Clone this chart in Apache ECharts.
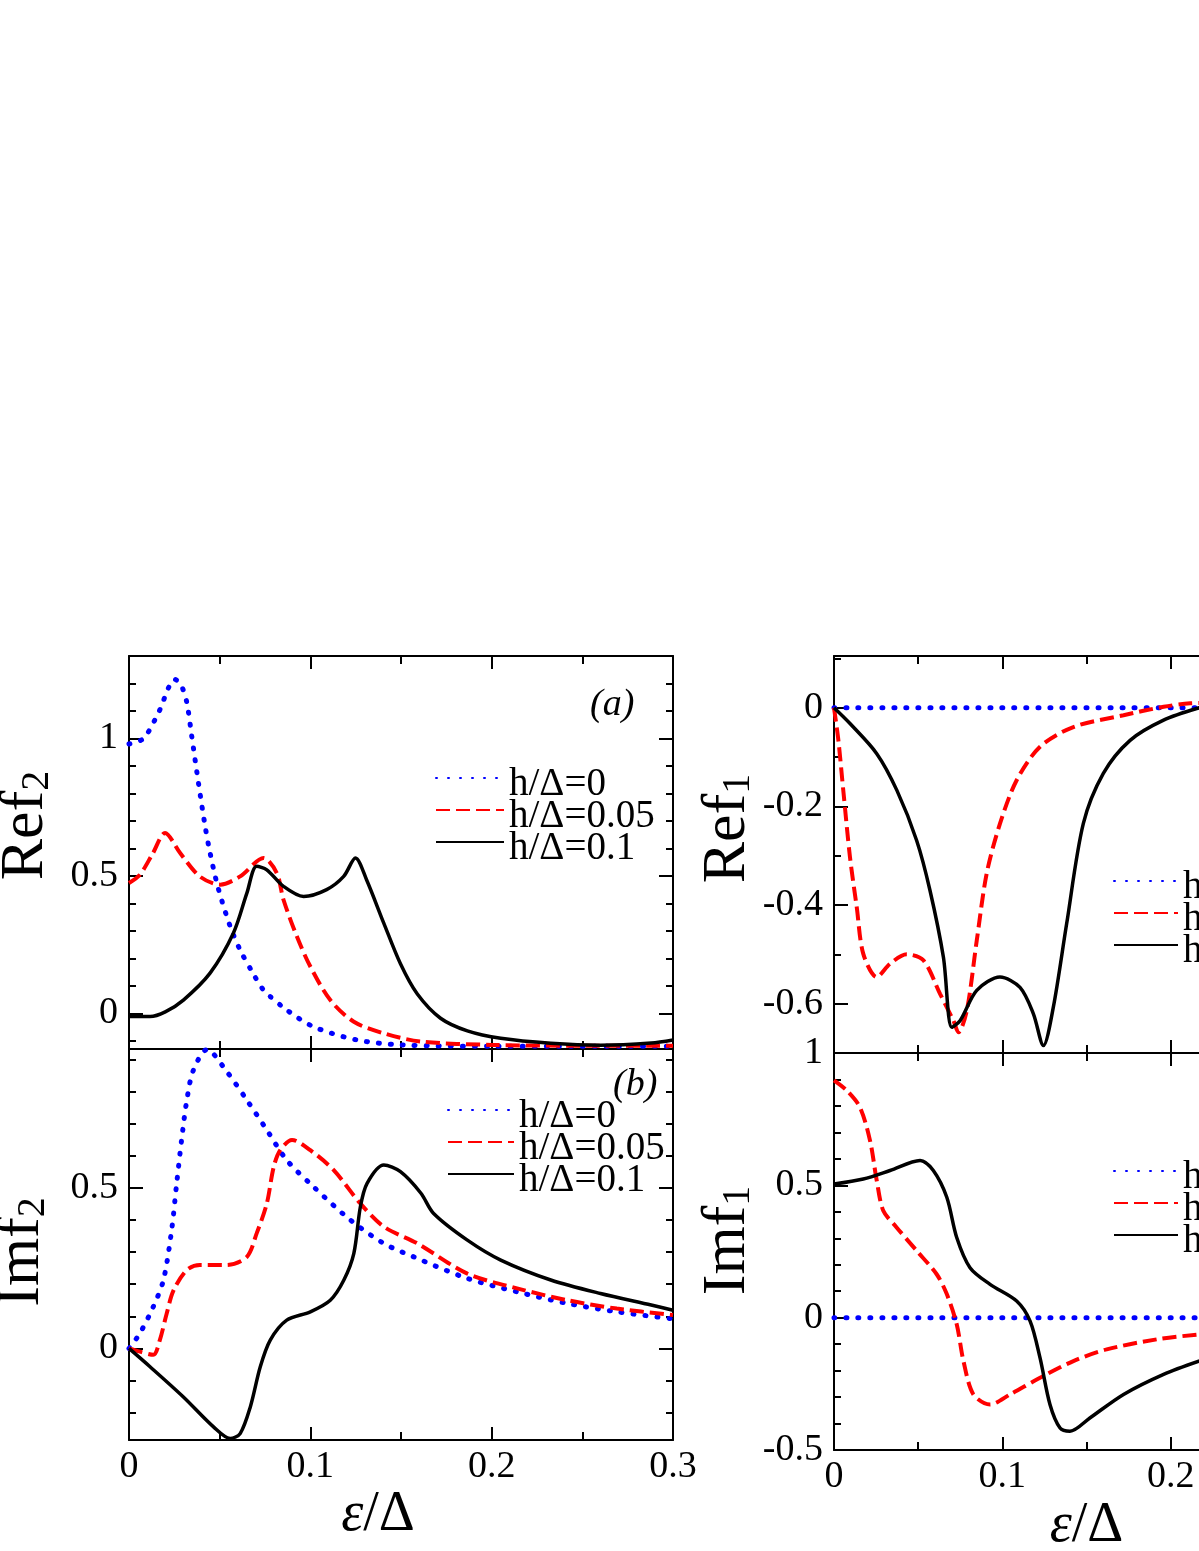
<!DOCTYPE html>
<html><head><meta charset="utf-8">
<script src="https://cdn.jsdelivr.net/npm/echarts@6/dist/echarts.min.js"></script>
<style>html,body{margin:0;padding:0;background:#fff}#c{width:1199px;height:1551px}</style>
</head><body><div id="c"></div>
<script>
// ---- data (x = ε/Δ, y = value) ----
const seriesNames = ['h/Δ=0', 'h/Δ=0.05', 'h/Δ=0.1'];

const ref2H0 = [[0,0.98],[0.008,1.0],[0.016,1.09],[0.0254,1.215],[0.029,1.19],[0.0319,1.13],[0.0346,1.008],[0.0383,0.838],[0.042,0.68],[0.0447,0.584],[0.049,0.46],[0.0558,0.316],[0.0613,0.23],[0.068,0.15],[0.0742,0.085],[0.087,0.012],[0.1018,-0.049],[0.1257,-0.097],[0.15,-0.115],[0.2,-0.12],[0.25,-0.12],[0.3,-0.12]];
const ref2H05 = [[0,0.474],[0.006,0.504],[0.013,0.58],[0.0199,0.656],[0.0282,0.583],[0.039,0.498],[0.0503,0.468],[0.0613,0.498],[0.0742,0.565],[0.0815,0.51],[0.0852,0.413],[0.0926,0.279],[0.1,0.17],[0.111,0.048],[0.124,-0.031],[0.1405,-0.073],[0.161,-0.103],[0.2,-0.115],[0.25,-0.118],[0.3,-0.118]];
const ref2H1 = [[0,-0.012],[0.0116,-0.012],[0.02,0.005],[0.03,0.048],[0.0447,0.146],[0.0576,0.292],[0.065,0.437],[0.0704,0.535],[0.076,0.522],[0.0852,0.462],[0.0963,0.425],[0.109,0.45],[0.1184,0.498],[0.1249,0.565],[0.131,0.486],[0.1405,0.328],[0.1497,0.18],[0.159,0.07],[0.1718,-0.018],[0.1866,-0.064],[0.205,-0.091],[0.2326,-0.109],[0.26,-0.116],[0.288,-0.108],[0.3,-0.097]];

const imf2H0 = [[0,0],[0.006,0.047],[0.0134,0.13],[0.019,0.213],[0.0235,0.368],[0.0263,0.514],[0.029,0.649],[0.0319,0.773],[0.0355,0.866],[0.043,0.93],[0.054,0.861],[0.065,0.773],[0.076,0.68],[0.087,0.586],[0.1018,0.503],[0.122,0.4],[0.1405,0.327],[0.157,0.285],[0.1866,0.218],[0.2142,0.176],[0.2418,0.14],[0.269,0.114],[0.3,0.092]];
const imf2H05 = [[0,0],[0.006,-0.01],[0.0134,-0.02],[0.017,0.026],[0.0208,0.109],[0.0245,0.18],[0.0319,0.244],[0.039,0.26],[0.054,0.26],[0.065,0.285],[0.0704,0.358],[0.076,0.451],[0.0798,0.565],[0.0834,0.617],[0.0899,0.649],[0.1,0.617],[0.1129,0.555],[0.1276,0.451],[0.1405,0.379],[0.159,0.327],[0.1866,0.233],[0.214,0.187],[0.2418,0.15],[0.269,0.124],[0.3,0.104]];
const imf2H1 = [[0,0],[0.0116,-0.057],[0.03,-0.151],[0.0466,-0.244],[0.0558,-0.28],[0.0613,-0.265],[0.0669,-0.182],[0.0724,-0.057],[0.0779,0.026],[0.087,0.088],[0.1,0.114],[0.111,0.15],[0.1185,0.213],[0.124,0.296],[0.1276,0.441],[0.1313,0.514],[0.1405,0.571],[0.1497,0.55],[0.161,0.483],[0.168,0.42],[0.1866,0.337],[0.205,0.275],[0.2326,0.213],[0.26,0.171],[0.288,0.135],[0.3,0.119]];

const ref1H0 = [[0,0],[0.3,0]];
const ref1H05 = [[0,0],[0.0026,-0.066],[0.0055,-0.167],[0.0095,-0.303],[0.0135,-0.404],[0.0174,-0.499],[0.0254,-0.546],[0.0333,-0.519],[0.0432,-0.5],[0.0531,-0.512],[0.063,-0.58],[0.0709,-0.634],[0.0739,-0.658],[0.0789,-0.614],[0.0848,-0.472],[0.0907,-0.336],[0.0986,-0.235],[0.1085,-0.147],[0.1224,-0.079],[0.1422,-0.039],[0.172,-0.015],[0.1958,0.002],[0.2116,0.009],[0.225,0.01]];
const ref1H1 = [[0,0],[0.0095,-0.032],[0.0254,-0.093],[0.0373,-0.167],[0.0491,-0.269],[0.057,-0.37],[0.065,-0.506],[0.07,-0.648],[0.075,-0.634],[0.0848,-0.573],[0.0986,-0.546],[0.1105,-0.567],[0.1184,-0.62],[0.1244,-0.685],[0.1303,-0.607],[0.1382,-0.438],[0.1481,-0.235],[0.16,-0.133],[0.1759,-0.066],[0.1958,-0.025],[0.2169,0],[0.225,0.005]];

const imf1H0 = [[0,0],[0.3,0]];
const imf1H05 = [[0,0.897],[0.0075,0.859],[0.0154,0.795],[0.0214,0.669],[0.0254,0.518],[0.0293,0.404],[0.0372,0.341],[0.0491,0.253],[0.061,0.164],[0.067,0.089],[0.0729,-0.025],[0.0769,-0.164],[0.0828,-0.29],[0.0927,-0.328],[0.1046,-0.29],[0.1224,-0.227],[0.1422,-0.164],[0.162,-0.12],[0.1917,-0.082],[0.2169,-0.063],[0.225,-0.058]];
const imf1H1 = [[0,0.505],[0.0174,0.524],[0.0333,0.556],[0.0511,0.594],[0.059,0.556],[0.067,0.455],[0.0729,0.303],[0.0808,0.189],[0.0927,0.126],[0.1085,0.063],[0.1165,-0.013],[0.1224,-0.152],[0.1283,-0.328],[0.1343,-0.417],[0.1402,-0.429],[0.152,-0.379],[0.172,-0.29],[0.1958,-0.214],[0.2169,-0.164],[0.225,-0.15]];

// ---- tick values ----
const xRange = [0, 0.3];
const ref2Range = [-0.13, 1.3];
const ref2Ticks = [-0.1,0,0.1,0.2,0.3,0.4,0.5,0.6,0.7,0.8,0.9,1.0,1.1,1.2,1.3];
const ref2Labels = [0, 0.5, 1];
const imf2Range = [-0.285, 0.932];
const imf2Ticks = [-0.2,-0.1,0,0.1,0.2,0.3,0.4,0.5,0.6,0.7,0.8,0.9];
const imf2Labels = [0, 0.5];
const ref1Range = [-0.7, 0.105];
const ref1Ticks = [-0.7,-0.6,-0.5,-0.4,-0.3,-0.2,-0.1,0,0.1];
const ref1Labels = [-0.6, -0.4, -0.2, 0];
const imf1Range = [-0.5, 1];
const imf1Ticks = [-0.5,-0.4,-0.3,-0.2,-0.1,0,0.1,0.2,0.3,0.4,0.5,0.6,0.7,0.8,0.9,1.0];
const imf1Labels = [-0.5, 0, 0.5, 1];

// ---- build option ----
const F = 'Liberation Serif';
const BLACK = '#000';
const lineW = {color: BLACK, width: 2};
const TICK_FONT = 38;

function makeX(grid, showLabels, nameCfg) {
  const base = {
    type: 'value', gridIndex: grid, min: xRange[0], max: xRange[1], interval: 0.1,
    splitLine: {show: false}, minorSplitLine: {show: false},
    axisLine: {show: true, onZero: false, lineStyle: lineW},
    axisTick: {show: true, inside: true, length: 13, lineStyle: lineW},
    minorTick: {show: true, splitNumber: 2, length: 8, lineStyle: lineW}
  };
  const bottom = Object.assign({}, base, {
    position: 'bottom',
    axisLabel: {show: showLabels, margin: 8, fontSize: TICK_FONT, fontFamily: F, color: BLACK}
  });
  if (nameCfg) {
    Object.assign(bottom, {
      name: '{e|ε}{n|/Δ}', nameLocation: 'middle', nameGap: nameCfg.gap,
      nameTextStyle: {fontFamily: F, color: BLACK, padding: nameCfg.pad,
        rich: {e: {fontSize: 56, fontStyle: 'italic', fontFamily: F, color: BLACK},
               n: {fontSize: 56, fontFamily: F, color: BLACK}}}
    });
  }
  const top = Object.assign({}, base, {position: 'top', axisLabel: {show: false}});
  return [bottom, top];
}

function makeY(grid, range, ticks, labels, nameCfg) {
  const base = {type: 'value', gridIndex: grid, min: range[0], max: range[1], splitLine: {show: false}};
  const leftMain = Object.assign({}, base, {
    position: 'left',
    axisLine: {show: true, onZero: false, lineStyle: lineW},
    axisTick: {show: true, inside: true, length: 14, customValues: labels, lineStyle: lineW},
    axisLabel: {show: true, customValues: labels, margin: 11, fontSize: TICK_FONT, fontFamily: F, color: BLACK},
    name: '{a|' + nameCfg.main + '}{b|' + nameCfg.sub + '}',
    nameLocation: 'middle', nameGap: nameCfg.gap, nameRotate: 90,
    nameTextStyle: {fontFamily: F, color: BLACK, padding: nameCfg.pad,
      rich: {a: {fontSize: 62, lineHeight: 62, fontFamily: F, color: BLACK},
             b: {fontSize: 40, lineHeight: 20, verticalAlign: 'bottom', fontFamily: F, color: BLACK}}}
  });
  const leftMinor = Object.assign({}, base, {
    position: 'left', axisLine: {show: false, onZero: false},
    axisTick: {show: true, inside: true, length: 7, customValues: ticks, lineStyle: lineW},
    axisLabel: {show: false}
  });
  const rightMain = Object.assign({}, base, {
    position: 'right', axisLine: {show: true, onZero: false, lineStyle: lineW},
    axisTick: {show: true, inside: true, length: 14, customValues: labels, lineStyle: lineW},
    axisLabel: {show: false}
  });
  const rightMinor = Object.assign({}, base, {
    position: 'right', axisLine: {show: false, onZero: false},
    axisTick: {show: true, inside: true, length: 7, customValues: ticks, lineStyle: lineW},
    axisLabel: {show: false}
  });
  return [leftMain, leftMinor, rightMain, rightMinor];
}

const styles = [
  {color: '#0000ff', width: 5, type: [1, 11], cap: 'round'},
  {color: '#ff0000', width: 4, type: [14, 6]},
  {color: '#000000', width: 3.5, type: 'solid'}
];

function panelSeries(grid, datas) {
  return datas.map((d, i) => ({
    type: 'line', name: seriesNames[i], xAxisIndex: grid * 2, yAxisIndex: grid * 4,
    data: d, showSymbol: false, symbol: 'none', smooth: 0.3,
    lineStyle: styles[i], itemStyle: {color: styles[i].color}, clip: true, animation: false
  }));
}

function makeLegend(left, firstRowY, w) {
  return {
    left: left, top: firstRowY - 23.5, orient: 'vertical', padding: 0, itemGap: -21,
    itemWidth: w, itemHeight: 14, selectedMode: false,
    itemStyle: {opacity: 0},
    data: seriesNames,
    formatter: '{t|{name}}',
    textStyle: {fontSize: 39, lineHeight: 33, fontFamily: F, color: BLACK,
      rich: {t: {fontSize: 39, lineHeight: 33, padding: [14, 0, 0, 0], fontFamily: F, color: BLACK}}}
  };
}

const gridBase = {outerBoundsMode: 'none', containLabel: false};
const option = {
  backgroundColor: '#fff',
  animation: false,
  grid: [
    Object.assign({left: 129, top: 656, width: 544, height: 393}, gridBase),
    Object.assign({left: 129, top: 1049, width: 544, height: 391}, gridBase),
    Object.assign({left: 834, top: 656, width: 505, height: 397}, gridBase),
    Object.assign({left: 834, top: 1053, width: 505, height: 397}, gridBase)
  ],
  xAxis: [].concat(
    makeX(0, false, null),
    makeX(1, true, {gap: 36, pad: [0, 46, 0, 0]}),
    makeX(2, false, null),
    makeX(3, true, {gap: 48, pad: [0, 0, 0, 0]})
  ),
  yAxis: [].concat(
    makeY(0, ref2Range, ref2Ticks, ref2Labels, {main: 'Ref', sub: '2', gap: 72, pad: [0, 0, 0, 54]}),
    makeY(1, imf2Range, imf2Ticks, imf2Labels, {main: 'Imf', sub: '2', gap: 76, pad: [0, 15, 0, 0]}),
    makeY(2, ref1Range, ref1Ticks, ref1Labels, {main: 'Ref', sub: '1', gap: 55, pad: [0, 0, 0, 52]}),
    makeY(3, imf1Range, imf1Ticks, imf1Labels, {main: 'Imf', sub: '1', gap: 52, pad: [0, 0, 0, 22]})
  ),
  legend: [
    makeLegend(435, 775, 68),
    makeLegend(447, 1107, 66),
    makeLegend(1113, 878, 64),
    makeLegend(1113, 1168, 64)
  ],
  graphic: [
    {type: 'text', left: 590, top: 686, style: {text: '(a)', fontSize: 38, fontStyle: 'italic', fontFamily: F, fill: BLACK}},
    {type: 'text', left: 613, top: 1066, style: {text: '(b)', fontSize: 38, fontStyle: 'italic', fontFamily: F, fill: BLACK}}
  ],
  series: [].concat(
    panelSeries(0, [ref2H0, ref2H05, ref2H1]),
    panelSeries(1, [imf2H0, imf2H05, imf2H1]),
    panelSeries(2, [ref1H0, ref1H05, ref1H1]),
    panelSeries(3, [imf1H0, imf1H05, imf1H1])
  )
};

const chart = echarts.init(document.getElementById('c'), null, {renderer: 'canvas'});
chart.setOption(option);
</script>
</body></html>
